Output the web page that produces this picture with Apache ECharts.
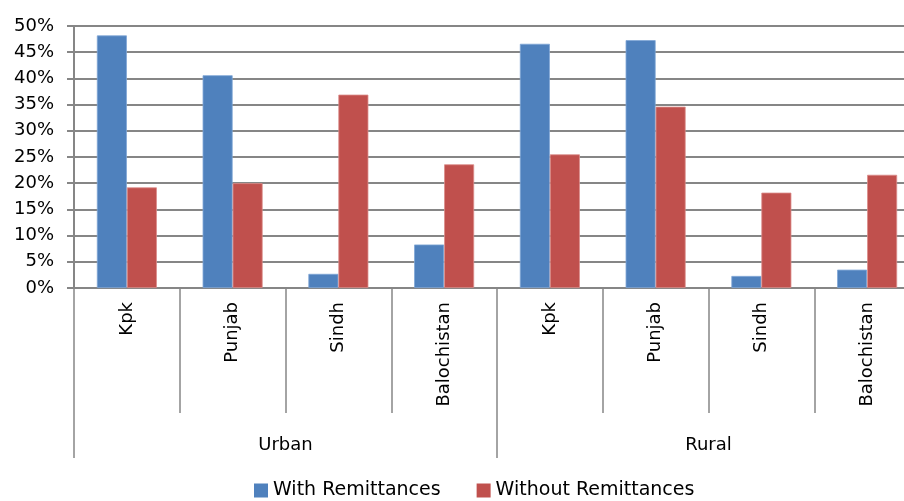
<!DOCTYPE html>
<html>
<head>
<meta charset="utf-8">
<script src="https://cdn.jsdelivr.net/npm/echarts@6/dist/echarts.min.js"></script>
<style>html,body{margin:0;padding:0;background:#fff;}#c{width:904px;height:501px;}</style>
</head>
<body>
<div id="c"></div>
<script>
const provinces = ['Kpk', 'Punjab', 'Sindh', 'Balochistan', 'Kpk', 'Punjab', 'Sindh', 'Balochistan'];
const regions = ['Urban', 'Rural'];
const withRemittances = [48.2, 40.6, 2.7, 8.3, 46.6, 47.3, 2.3, 3.5];
const withoutRemittances = [19.2, 20.0, 36.9, 23.6, 25.5, 34.6, 18.2, 21.6];
const yTicks = { min: 0, max: 50, interval: 5 };

const FONT = 'DejaVu Sans';
const GRAY = '#868686';
const chart = echarts.init(document.getElementById('c'), null, { renderer: 'canvas' });
chart.setOption({
  animation: false,
  backgroundColor: '#fff',
  textStyle: { fontFamily: FONT },
  grid: { left: 74, top: 26, width: 846, height: 262, containLabel: false, outerBoundsMode: 'none' },
  legend: {
    left: 249, top: 476,
    icon: 'rect', itemWidth: 14, itemHeight: 14, itemGap: 36,
    itemStyle: { borderWidth: 0 },
    textStyle: { fontFamily: FONT, fontSize: 19, color: '#000' },
    data: ['With Remittances', 'Without Remittances']
  },
  xAxis: [
    {
      type: 'category', data: provinces, position: 'bottom',
      axisLine: { show: true, lineStyle: { color: GRAY, width: 2 } },
      axisTick: { show: true, alignWithLabel: false, interval: 0, length: 125, lineStyle: { color: GRAY, width: 1.5 } },
      axisLabel: { interval: 0, rotate: 90, margin: 14, fontFamily: FONT, fontSize: 18, color: '#000' }
    },
    {
      type: 'category', data: regions, position: 'bottom',
      axisLine: { show: false },
      axisTick: { show: true, alignWithLabel: false, interval: 0, length: 170, lineStyle: { color: GRAY, width: 1.5 } },
      axisLabel: { interval: 0, margin: 148, fontFamily: FONT, fontSize: 18, color: '#000' }
    }
  ],
  yAxis: {
    type: 'value', min: yTicks.min, max: yTicks.max, interval: yTicks.interval,
    axisLine: { show: true, lineStyle: { color: GRAY, width: 2 } },
    axisTick: { show: true, length: 7, lineStyle: { color: GRAY, width: 2 } },
    axisLabel: { formatter: '{value}%', margin: 20, fontFamily: FONT, fontSize: 18, color: '#000' },
    splitLine: { show: true, lineStyle: { color: GRAY, width: 2 } }
  },
  series: [
    {
      name: 'With Remittances', type: 'bar', xAxisIndex: 0, data: withRemittances,
      barWidth: 30, barGap: '0%',
      itemStyle: { color: '#4F81BD', borderColor: '#7FA6D6', borderWidth: 0.8 }
    },
    {
      name: 'Without Remittances', type: 'bar', xAxisIndex: 0, data: withoutRemittances,
      barWidth: 30, barGap: '0%',
      itemStyle: { color: '#C0504D', borderColor: '#DB8B89', borderWidth: 0.8 }
    }
  ]
});
</script>
</body>
</html>
